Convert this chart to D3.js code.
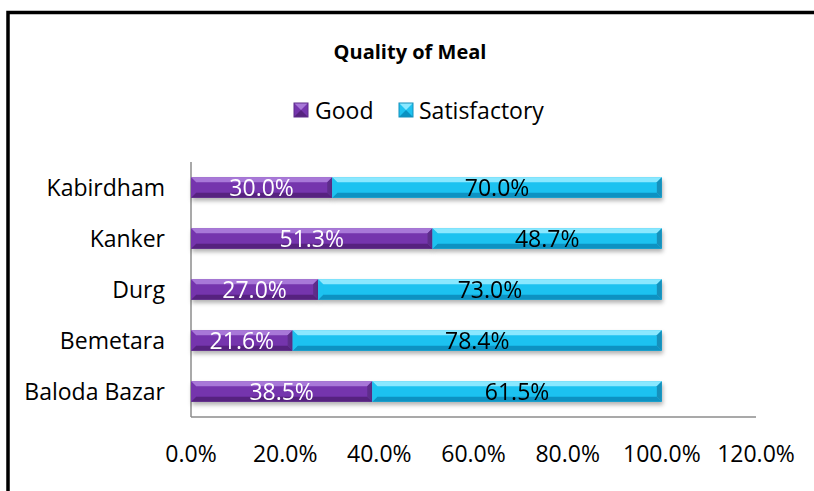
<!DOCTYPE html>
<head>
	<script src="https://d3js.org/d3.v7.min.js"></script>
	<style>
		body { margin: 0; background: #fff; }
		text { font-family: "Open Sans", sans-serif; }
	</style>
</head>
<body>
<svg></svg>
<script>
	var categories = ["Kabirdham", "Kanker", "Durg", "Bemetara", "Baloda Bazar"];
	var good = [30.0, 51.3, 27.0, 21.6, 38.5];
	var satisfactory = [70.0, 48.7, 73.0, 78.4, 61.5];
	var seriesNames = ["Good", "Satisfactory"];
	var xTicks = [0, 20, 40, 60, 80, 100, 120];

	var width = 814, height = 491;
	var fontSize = 23;

	var svg = d3.select("svg")
		.attr("width", width)
		.attr("height", height);

	// frame
	svg.append("path")
		.attr("d", "M8," + (height + 10) + "V12.5H" + (width + 10))
		.attr("fill", "none")
		.attr("stroke", "#000")
		.attr("stroke-width", 3.5);

	var defs = svg.append("defs");
	var shadow = defs.append("filter").attr("id", "shadow")
		.attr("x", "-5%").attr("y", "-30%").attr("width", "110%").attr("height", "180%");
	shadow.append("feDropShadow")
		.attr("dx", 1).attr("dy", 3).attr("stdDeviation", 2)
		.attr("flood-color", "#000").attr("flood-opacity", 0.3);

	var palette = {
		Good: { base: "#7535ad", top: "#a878d8", bottom: "#56237f", side: "#5f2d8c", text: "#fff" },
		Satisfactory: { base: "#1ec2f0", top: "#8ae8ff", bottom: "#0a92c2", side: "#1490bb", text: "#000" }
	};

	var rows = categories.map(function(c, i) {
		return { category: c, Good: good[i], Satisfactory: satisfactory[i] };
	});
	var stacked = d3.stack().keys(seriesNames)(rows);

	var x = d3.scaleLinear().domain([0, 120]).range([191, 756]);
	var y = d3.scaleBand().domain(categories).range([162, 417])
		.paddingInner(0.6).paddingOuter(0.3);

	// title
	svg.append("text")
		.attr("x", 410).attr("y", 59)
		.attr("text-anchor", "middle")
		.attr("font-size", 20).attr("font-weight", "bold")
		.text("Quality of Meal");

	// legend
	var legendPos = [{ sx: 294, tx: 315 }, { sx: 399, tx: 419 }];
	seriesNames.forEach(function(name, i) {
		var p = palette[name], lx = legendPos[i].sx, ly = 103, s = 14;
		var g = svg.append("g");
		g.append("rect").attr("x", lx).attr("y", ly).attr("width", s).attr("height", s).attr("fill", p.base);
		g.append("path").attr("d", "M" + lx + "," + ly + "h" + s + "l" + (-s / 2) + "," + (s / 2) + "z").attr("fill", p.top);
		g.append("path").attr("d", "M" + lx + "," + (ly + s) + "h" + s + "l" + (-s / 2) + "," + (-s / 2) + "z").attr("fill", p.bottom);
		g.append("rect").attr("x", lx).attr("y", ly).attr("width", s).attr("height", s)
			.attr("fill", "none").attr("stroke", p.side).attr("stroke-width", 1);
		svg.append("text")
			.attr("x", legendPos[i].tx).attr("y", ly + 16)
			.attr("font-size", fontSize)
			.text(name);
	});

	// axes lines
	svg.append("line")
		.attr("x1", x(0)).attr("x2", x(0))
		.attr("y1", 162).attr("y2", 417)
		.attr("stroke", "#8c8c8c").attr("stroke-width", 1.5);
	svg.append("line")
		.attr("x1", x(0)).attr("x2", x(120))
		.attr("y1", 417).attr("y2", 417)
		.attr("stroke", "#8c8c8c").attr("stroke-width", 1.5);

	// x tick labels
	svg.selectAll(".xtick")
		.data(xTicks)
		.enter().append("text")
		.attr("class", "xtick")
		.attr("x", function(d) { return x(d); })
		.attr("y", 462)
		.attr("text-anchor", "middle")
		.attr("font-size", fontSize)
		.text(function(d) { return d.toFixed(1) + "%"; });

	// category labels
	svg.selectAll(".ylab")
		.data(categories)
		.enter().append("text")
		.attr("class", "ylab")
		.attr("x", 165)
		.attr("y", function(d) { return y(d) + y.bandwidth() / 2; })
		.attr("dy", "0.36em")
		.attr("text-anchor", "end")
		.attr("font-size", fontSize)
		.text(function(d) { return d; });

	// bars
	var b = 5;
	stacked.forEach(function(layer) {
		var p = palette[layer.key];
		var g = svg.append("g").attr("filter", "url(#shadow)");
		layer.forEach(function(d) {
			var x0 = x(d[0]), x1 = x(d[1]), y0 = y(d.data.category), h = y.bandwidth();
			var seg = g.append("g");
			seg.append("rect")
				.attr("x", x0).attr("y", y0).attr("width", x1 - x0).attr("height", h)
				.attr("fill", p.base);
			seg.append("path")
				.attr("d", "M" + x0 + "," + y0 + "H" + x1 + "L" + (x1 - b) + "," + (y0 + b) + "H" + (x0 + b) + "Z")
				.attr("fill", p.top);
			seg.append("path")
				.attr("d", "M" + x0 + "," + (y0 + h) + "H" + x1 + "L" + (x1 - b) + "," + (y0 + h - b) + "H" + (x0 + b) + "Z")
				.attr("fill", p.bottom);
			seg.append("path")
				.attr("d", "M" + x1 + "," + y0 + "V" + (y0 + h) + "L" + (x1 - b) + "," + (y0 + h - b) + "V" + (y0 + b) + "Z")
				.attr("fill", p.side);
			seg.append("path")
				.attr("d", "M" + x0 + "," + y0 + "V" + (y0 + h) + "L" + (x0 + b) + "," + (y0 + h - b) + "V" + (y0 + b) + "Z")
				.attr("fill", p.base).attr("opacity", 0.8);
		});
	});

	// data labels
	stacked.forEach(function(layer) {
		var p = palette[layer.key];
		svg.selectAll(".lab-" + layer.key)
			.data(layer)
			.enter().append("text")
			.attr("x", function(d) { return (x(d[0]) + x(d[1])) / 2; })
			.attr("y", function(d) { return y(d.data.category) + y.bandwidth() / 2; })
			.attr("dy", "0.36em")
			.attr("text-anchor", "middle")
			.attr("font-size", fontSize)
			.attr("fill", p.text)
			.text(function(d) { return (d[1] - d[0]).toFixed(1) + "%"; });
	});
</script>
</body>
</html>
